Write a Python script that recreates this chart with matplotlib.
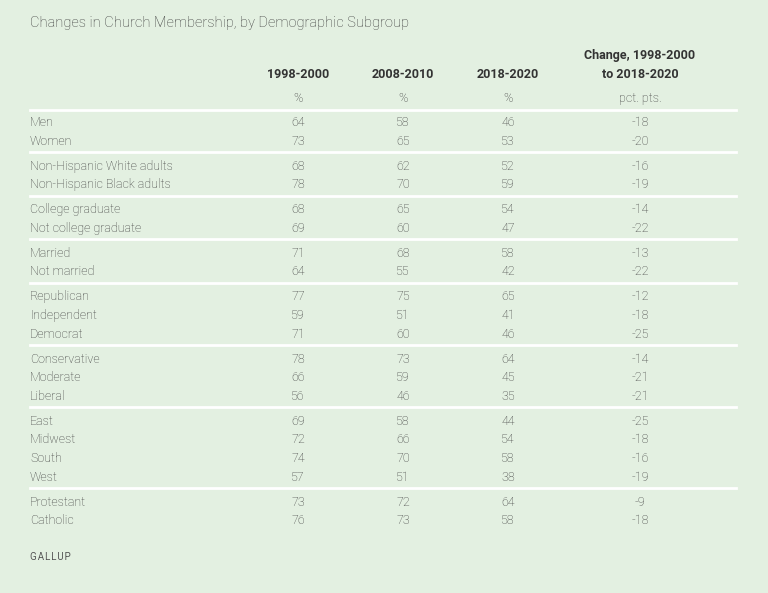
import matplotlib.pyplot as plt

# Table data
groups = [
    ["Men", "Women"],
    ["Non-Hispanic White adults", "Non-Hispanic Black adults"],
    ["College graduate", "Not college graduate"],
    ["Married", "Not married"],
    ["Republican", "Independent", "Democrat"],
    ["Conservative", "Moderate", "Liberal"],
    ["East", "Midwest", "South", "West"],
    ["Protestant", "Catholic"],
]
y1998 = [64, 73, 68, 78, 68, 69, 71, 64, 77, 59, 71, 78, 66, 56, 69, 72, 74, 57, 73, 76]
y2008 = [58, 65, 62, 70, 65, 60, 68, 55, 75, 51, 60, 73, 59, 46, 58, 66, 70, 51, 72, 73]
y2018 = [46, 53, 52, 59, 54, 47, 58, 42, 65, 41, 46, 64, 45, 35, 44, 54, 58, 38, 64, 58]
change = [-18, -20, -16, -19, -14, -22, -13, -22, -12, -18, -25, -14, -21, -21, -25, -18, -16, -19, -9, -18]
col_heads = ["1998-2000", "2008-2010", "2018-2020", "Change, 1998-2000\nto 2018-2020"]
col_units = ["%", "%", "%", "pct. pts."]

BG = "#e3f0e1"
TXT = "#3c3c3c"
HEAD = "#333333"
plt.rcParams['font.family'] = ['Roboto', 'DejaVu Sans']

fig = plt.figure(figsize=(7.68, 5.93), dpi=100, facecolor=BG)
ax = fig.add_axes([0, 0, 1, 1])
ax.set_facecolor(BG)
ax.set_xlim(0, 768)
ax.set_ylim(593, 0)
ax.axis('off')

col_x = [298, 403, 508, 640]
left, right = 30, 736
fs = 9
dy = 1.5  # small nudge so text sits like the reference

ax.text(left, 21 + dy, "Changes in Church Membership, by Demographic Subgroup",
        fontsize=10.5, color=TXT, fontweight='light', va='center', ha='left')

for x, h, u in zip(col_x, col_heads, col_units):
    if "\n" in h:
        a, b = h.split("\n")
        ax.text(x, 54 + dy, a, fontsize=fs, fontweight='bold', color=HEAD, ha='center', va='center')
        ax.text(x, 73 + dy, b, fontsize=fs, fontweight='bold', color=HEAD, ha='center', va='center')
    else:
        ax.text(x, 73 + dy, h, fontsize=fs, fontweight='bold', color=HEAD, ha='center', va='center')
    ax.text(x, 97 + dy, u, fontsize=fs, color=TXT, fontweight='light', ha='center', va='center')

ax.plot([left, right], [110, 110], color='white', lw=2)

y = 121
step = 18.6
i = 0
for gi, grp in enumerate(groups):
    for label in grp:
        ax.text(left, y + dy, label, fontsize=fs, color=TXT, fontweight='light',
                ha='left', va='center')
        vals = [y1998[i], y2008[i], y2018[i], change[i]]
        for x, v in zip(col_x, vals):
            ax.text(x, y + dy, str(v), fontsize=fs, color=TXT, fontweight='light',
                    ha='center', va='center')
        i += 1
        y += step
    y -= step
    if gi < len(groups) - 1:
        ax.plot([left, right], [y + 12.5, y + 12.5], color='white', lw=2)
    y += 25

ax.text(left, 555 + dy, "G A L L U P".replace(" ", "\u200a"), fontsize=7, color="#555555",
        ha='left', va='center')

fig.savefig("out.png", dpi=100, facecolor=BG)
